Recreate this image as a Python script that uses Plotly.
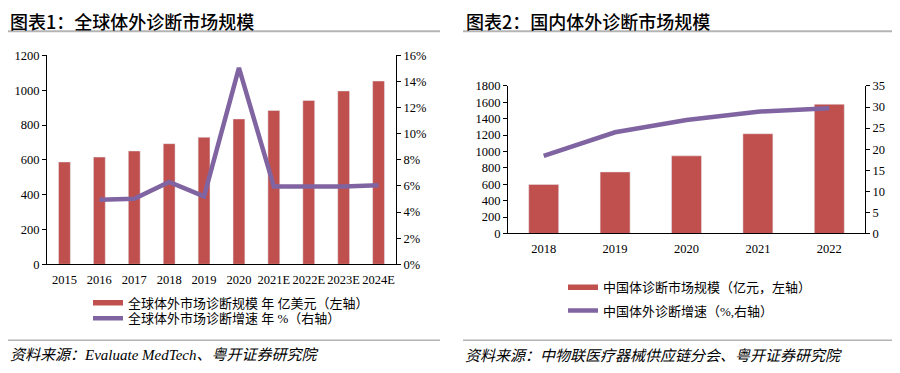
import plotly.graph_objects as go

# ---------- data ----------
years1 = ["2015", "2016", "2017", "2018", "2019", "2020", "2021E", "2022E", "2023E", "2024E"]
global_size = [588, 616, 651, 693, 730, 835, 884, 941, 996, 1053]
global_growth = [None, 4.95, 5.02, 6.3, 5.2, 15.05, 5.96, 5.96, 5.96, 6.05]

years2 = ["2018", "2019", "2020", "2021", "2022"]
china_size = [599, 751, 947, 1217, 1577]
china_growth = [18.4, 24.0, 26.9, 28.9, 29.7]

y1_ticks = [0, 200, 400, 600, 800, 1000, 1200]
y2_ticks = [0, 2, 4, 6, 8, 10, 12, 14, 16]
y3_ticks = [0, 200, 400, 600, 800, 1000, 1200, 1400, 1600, 1800]
y4_ticks = [0, 5, 10, 15, 20, 25, 30, 35]

title1 = "图表1：全球体外诊断市场规模"
title2 = "图表2：国内体外诊断市场规模"
leg1a = "全球体外市场诊断规模 年 亿美元（左轴）"
leg1b = "全球体外市场诊断增速 年 %（右轴）"
leg2a = "中国体诊断市场规模（亿元，左轴）"
leg2b = "中国体外诊断增速（%,右轴）"
src1 = "资料来源：Evaluate MedTech、粤开证券研究院"
src2 = "资料来源：中物联医疗器械供应链分会、粤开证券研究院"

RED = "#C0504D"
PURPLE = "#8064A2"
FONT = "Liberation Serif, Noto Sans CJK SC"
W, H = 900, 373
OFF = 8  # page body margin


def px(x):
    return (x - OFF) / W


def py(y):
    return 1 - (y - OFF) / H


fig = go.Figure()

# chart 1
fig.add_trace(go.Bar(x=years1, y=global_size, marker_color=RED, width=0.34,
                     showlegend=False, xaxis="x", yaxis="y"))
fig.add_trace(go.Scatter(x=years1, y=global_growth, mode="lines",
                         line=dict(color=PURPLE, width=4.5), showlegend=False,
                         xaxis="x", yaxis="y2"))
fig.add_trace(go.Scatter(x=[None], y=[None], mode="lines", name=leg1a,
                         line=dict(color=RED, width=5.5), legend="legend",
                         xaxis="x", yaxis="y"))
fig.add_trace(go.Scatter(x=[None], y=[None], mode="lines", name=leg1b,
                         line=dict(color=PURPLE, width=4.5), legend="legend2",
                         xaxis="x", yaxis="y"))

# chart 2
fig.add_trace(go.Bar(x=years2, y=china_size, marker_color=RED, width=0.42,
                     showlegend=False, xaxis="x2", yaxis="y3"))
fig.add_trace(go.Scatter(x=years2, y=china_growth, mode="lines",
                         line=dict(color=PURPLE, width=4.5), showlegend=False,
                         xaxis="x2", yaxis="y4"))
fig.add_trace(go.Scatter(x=[None], y=[None], mode="lines", name=leg2a,
                         line=dict(color=RED, width=5.5), legend="legend3",
                         xaxis="x2", yaxis="y3"))
fig.add_trace(go.Scatter(x=[None], y=[None], mode="lines", name=leg2b,
                         line=dict(color=PURPLE, width=4.5), legend="legend4",
                         xaxis="x2", yaxis="y3"))

axfont = dict(family=FONT, size=12.5, color="#000")
common_y = dict(showgrid=False, zeroline=False, showline=True, linecolor="#000",
                linewidth=1, ticks="outside", ticklen=4, tickcolor="#000",
                tickfont=axfont)
common_x = dict(type="category", showgrid=False, zeroline=False, showline=True,
                linecolor="#000", linewidth=1, ticks="", tickangle=0, tickfont=axfont,
                ticklabelstandoff=4)

fig.update_layout(
    width=W, height=H, margin=dict(l=0, r=0, t=0, b=0),
    paper_bgcolor="white", plot_bgcolor="white",
    font=dict(family=FONT, size=12, color="#000"),
    xaxis=dict(common_x, domain=[px(47), px(396)], range=[-0.5, 9.5], anchor="y"),
    yaxis=dict(common_y, domain=[py(267), py(50)], range=[0, 1200],
               tickvals=y1_ticks, anchor="x"),
    yaxis2=dict(common_y, overlaying="y", side="right", range=[0, 16],
                tickvals=y2_ticks, ticktext=[f"{v}%" for v in y2_ticks], anchor="x"),
    xaxis2=dict(common_x, domain=[px(508), px(865)], range=[-0.5, 4.5], anchor="y3"),
    yaxis3=dict(common_y, domain=[py(235), py(81.7)], range=[0, 1800],
                tickvals=y3_ticks, anchor="x2"),
    yaxis4=dict(common_y, overlaying="y3", side="right", range=[0, 35],
                tickvals=y4_ticks, anchor="x2"),
)

legcommon = dict(xanchor="left", yanchor="middle", bgcolor="rgba(0,0,0,0)",
                 font=dict(family=FONT, size=13, color="#000"), itemwidth=30)
fig.update_layout(
    legend=dict(legcommon, x=px(88), y=py(307)),
    legend2=dict(legcommon, x=px(88), y=py(323)),
    legend3=dict(legcommon, x=px(563), y=py(291)),
    legend4=dict(legcommon, x=px(563), y=py(315)),
)

annos = [
    dict(text=title1, x=px(8), y=py(14), xanchor="left", yanchor="middle",
         font=dict(family="Noto Sans CJK SC", size=18, color="#000", weight=500)),
    dict(text=title2, x=px(464), y=py(14), xanchor="left", yanchor="middle",
         font=dict(family="Noto Sans CJK SC", size=18, color="#000", weight=500)),
    dict(text="<i>" + src1 + "</i>", x=px(8), y=py(361), xanchor="left", yanchor="middle",
         font=dict(family=FONT, size=15, color="#000")),
    dict(text="<i>" + src2 + "</i>", x=px(463), y=py(362), xanchor="left", yanchor="middle",
         font=dict(family=FONT, size=15, color="#000")),
]
for a in annos:
    a.update(xref="paper", yref="paper", showarrow=False)
fig.update_layout(annotations=annos)

shapes = [
    dict(type="line", x0=0, x1=px(440), y0=py(25), y1=py(25), line=dict(color="#b4b4b4", width=2)),
    dict(type="line", x0=px(463), x1=1, y0=py(25), y1=py(25), line=dict(color="#b4b4b4", width=2)),
    dict(type="line", x0=0, x1=px(440), y0=py(346), y1=py(346), line=dict(color="#b4b4b4", width=1.5)),
    dict(type="line", x0=px(463), x1=1, y0=py(346), y1=py(346), line=dict(color="#b4b4b4", width=1.5)),
]
for s in shapes:
    s.update(xref="paper", yref="paper")
fig.update_layout(shapes=shapes)

fig.write_html("out.html")
